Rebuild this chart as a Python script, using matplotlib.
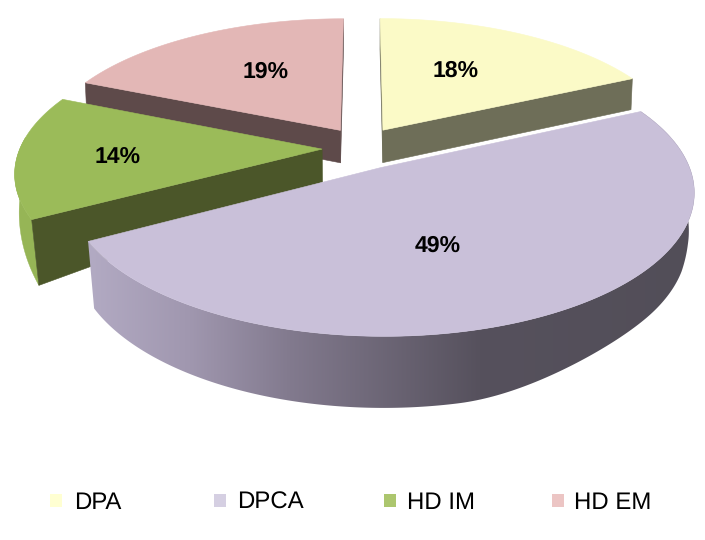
import numpy as np
import matplotlib
matplotlib.use("Agg")
import matplotlib.pyplot as plt
from matplotlib.patches import Polygon, Rectangle
from matplotlib.colors import to_rgb

plt.rcParams['font.family'] = ['Liberation Sans', 'DejaVu Sans']
plt.rcParams['text.hinting'] = 'no_hinting'
plt.rcParams['text.hinting_factor'] = 1

# data
categories = ["DPA", "DPCA", "HD IM", "HD EM"]
values = [18.0, 49.0, 14.4, 18.6]

# styles
top_colors = ["#FBFAC7", "#C9C0D9", "#9BBB59", "#E3B7B6"]
wall_colors = ["#6E6E58", "#54505E", "#4B5629", "#5E4A4A"]
legend_colors = ["#FFFFD2", "#D5CFE2", "#ACC66E", "#ECC5C4"]
legend_marker_x = [50, 214, 384, 552]
legend_text_x = [74, 237, 407, 574]
label_pos = [(456, 71), (438, 246), (118, 157), (266, 72)]

# projection layout (pixels)
CX, CY, FX, GY, K = 362.0, 148.0, 302.0, 134.7, 0.16
EXP_X, EXP_Y = 0.132, 0.16
WALL_Y = [80, 150, 220, 345]
WALL_H = [31, 33, 66, 72]


def project(x, y):
    w = 1 + K * y
    return CX + FX * x / w, CY - GY * y / w


def bottom(X, Y):
    s = np.interp(Y, [130, 220], [0.995, 0.978])
    h = np.interp(Y, WALL_Y, WALL_H)
    t = np.clip((X - 460) / 190, 0, 1)
    right = 1 - 0.22 * t * t * (3 - 2 * t)
    blend = np.interp(Y, [150, 200], [0.0, 1.0])
    return CX + (X - CX) * s, Y + h * (1 + (right - 1) * blend)


fig = plt.figure(figsize=(7.05, 5.40), dpi=100)
ax = fig.add_axes([0, 0, 1, 1])
ax.axis("off")

fr = np.array(values) / sum(values) * 2 * np.pi
starts = np.concatenate([[0], np.cumsum(fr)[:-1]])
ends = starts + fr
mids = (starts + ends) / 2


def slice_xy(i, th):
    ox, oy = EXP_X * np.sin(mids[i]), EXP_Y * np.cos(mids[i])
    return project(ox + np.sin(th), oy + np.cos(th))


def apex_xy(i):
    return project(EXP_X * np.sin(mids[i]), EXP_Y * np.cos(mids[i]))


def radial_wall(i, th, z):
    a = apex_xy(i)
    r = slice_xy(i, th)
    ax.add_patch(Polygon([a, r, bottom(*r), bottom(*a)], closed=True,
                         fc=wall_colors[i], ec=wall_colors[i], lw=0.4, zorder=z))


def outer_outline(i, ths):
    up = [slice_xy(i, t) for t in ths]
    lo = [bottom(*p) for p in up]
    return up + lo[::-1]


def top(i, z):
    ths = np.linspace(starts[i], ends[i], 120)
    pts = [apex_xy(i)] + [slice_xy(i, t) for t in ths]
    ax.add_patch(Polygon(pts, closed=True, fc=top_colors[i], ec=top_colors[i],
                         lw=0.4, zorder=z))


grad_x = [90, 190, 290, 480, 700]
grad_c = np.array([(178, 170, 195), (160, 151, 175), (130, 122, 142),
                   (86, 81, 93), (82, 78, 88)]) / 255

# draw back to front: HD EM, DPA, HD IM, DPCA
radial_wall(3, ends[3], 1)
radial_wall(3, starts[3], 1)
top(3, 2)
radial_wall(0, ends[0], 3)
radial_wall(0, starts[0], 3)
top(0, 4)
green_wall = tuple(c * 0.97 for c in to_rgb(top_colors[2]))
ax.add_patch(Polygon(outer_outline(2, np.linspace(starts[2], np.radians(275), 50)),
                     closed=True, fc=green_wall, ec=green_wall, lw=0.3, zorder=5))
radial_wall(2, starts[2], 6)
top(2, 7)

xs = np.arange(0, 706)
grad = np.stack([np.interp(xs, grad_x, grad_c[:, c]) for c in range(3)], axis=-1)[None, :, :]
im = ax.imshow(grad, extent=(0, 705, 540, 0), aspect="auto", zorder=8, interpolation="bilinear")
wall_poly = Polygon(outer_outline(1, np.linspace(starts[1], ends[1], 260)), closed=True,
                    transform=ax.transData, fc="none", ec="none")
ax.add_patch(wall_poly)
im.set_clip_path(wall_poly)
top(1, 9)

for i, (x, y) in enumerate(label_pos):
    ax.text(x, y, f"{round(values[i])}%", ha="center", va="center", fontsize=16.5,
            fontweight="bold", color="black", zorder=10)

for i, name in enumerate(categories):
    ax.add_patch(Rectangle((legend_marker_x[i], 494), 12, 13, fc=legend_colors[i],
                           ec="none", zorder=10))
    ax.text(legend_text_x[i], 509, name, ha="left", va="baseline", fontsize=17,
            color="black", zorder=10)

ax.set_xlim(0, 705)
ax.set_ylim(540, 0)
fig.savefig("out.png", dpi=100)
